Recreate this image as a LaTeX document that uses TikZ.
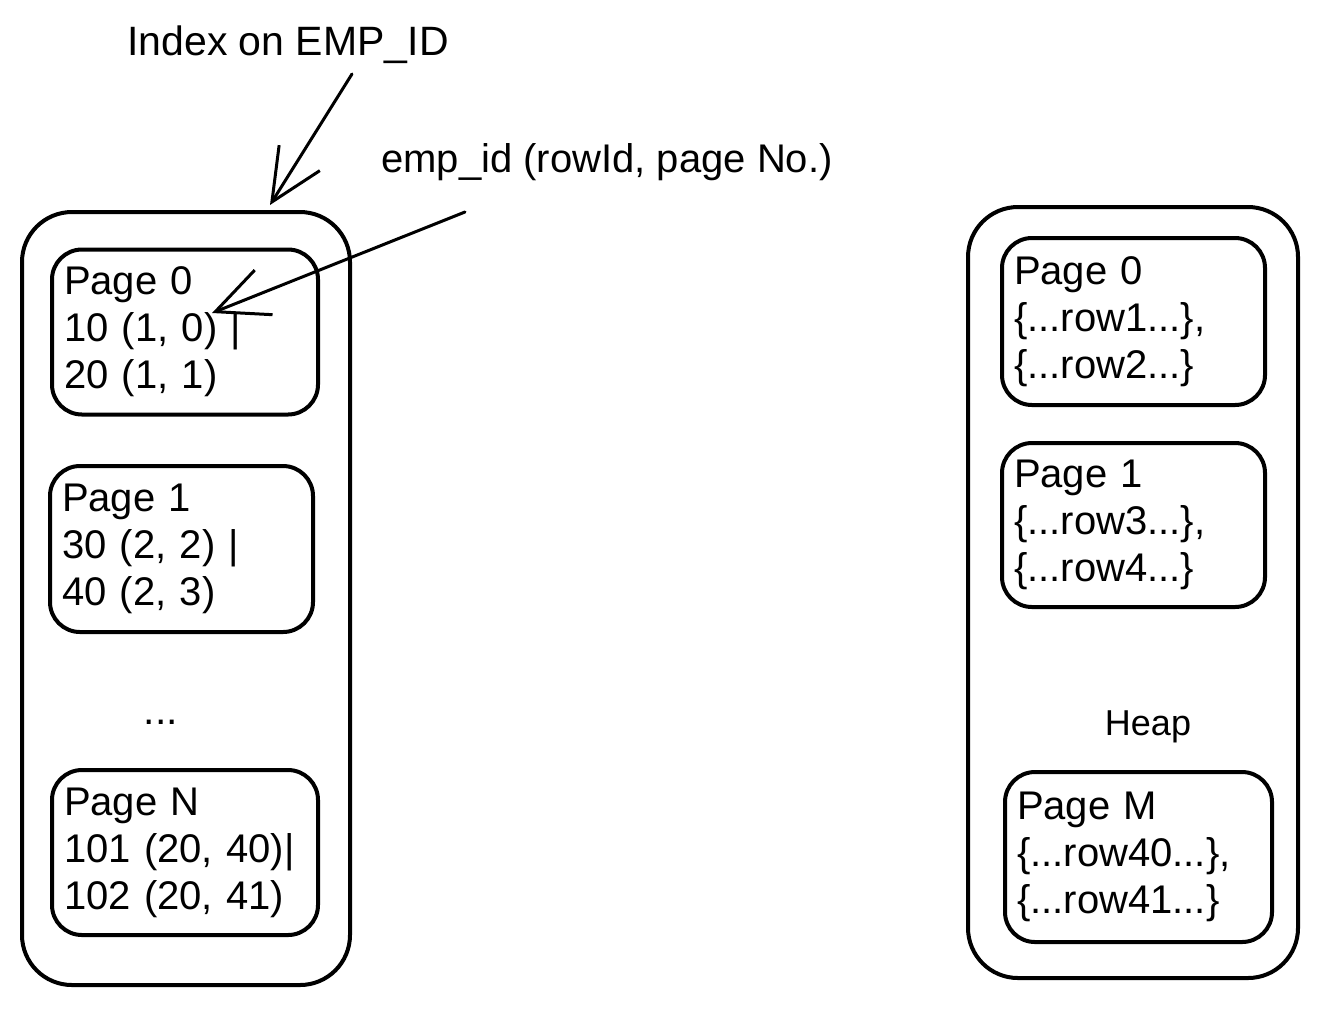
\documentclass[tikz,border=0pt]{standalone}
\usepackage{fontspec}
\setmainfont{Liberation Sans}
\usetikzlibrary{arrows.meta}
\tikzset{
  outerbox/.style={draw, line width=2pt, rounded corners=25pt},
  pagebox/.style={draw, line width=2pt, rounded corners=15pt, align=left,
    inner xsep=6pt, font=\fontsize{20pt}{23.5pt}\selectfont},
  lbl/.style={font=\fontsize{20.5pt}{23pt}\selectfont, inner sep=0pt},
  barb/.style={line width=1.5pt, line cap=round,
    -{Straight Barb[length=26pt, width=24pt, line width=1.5pt]}}
}
\begin{document}
\begin{tikzpicture}[x=0.5pt,y=-0.5pt]
\useasboundingbox (0,0) rectangle (1320,1008);
% outer containers
\node[outerbox, minimum width=164pt, minimum height=386.5pt] (lbox) at (186,598.5) {};
\node[outerbox, minimum width=165pt, minimum height=385.5pt] (rbox) at (1133,592.5) {};
% index pages
\node[pagebox, minimum width=133pt, minimum height=82.5pt, text width=121pt] (ip0) at (185,332)
  {Page 0\\10 (1, 0) |\\20 (1, 1)};
\node[pagebox, minimum width=131.5pt, minimum height=83pt, text width=119.5pt] (ip1) at (181.5,549)
  {Page 1\\30 (2, 2) |\\40 (2, 3)};
\node[lbl] (idots) at (161,722) {...};
\node[pagebox, minimum width=133pt, minimum height=82.5pt, text width=121pt] (ipn) at (185,852.5)
  {Page N\\101 (20, 40)|\\102 (20, 41)};
% heap pages
\node[pagebox, minimum width=131.5pt, minimum height=83.5pt, text width=119.5pt] (hp0) at (1133.5,321.5)
  {Page 0\\\{...row1...\},\\\{...row2...\}};
\node[pagebox, minimum width=131.5pt, minimum height=82pt, text width=119.5pt] (hp1) at (1133.5,525)
  {Page 1\\\{...row3...\},\\\{...row4...\}};
\node[lbl, font=\fontsize{18pt}{21pt}\selectfont] (heap) at (1148,727) {Heap};
\node[pagebox, minimum width=133.5pt, minimum height=85pt, text width=121.5pt] (hpm) at (1138.5,857)
  {Page M\\\{...row40...\},\\\{...row41...\}};
% labels
\node[lbl] (idxlbl) at (288,45) {Index on EMP\_ID};
\node[lbl, font=\fontsize{20pt}{23pt}\selectfont] (keylbl) at (607,162) {emp\_id (rowId, page No.)};
% arrows
\coordinate (a1s) at (352,74);
\coordinate (a1e) at (270,205);
\coordinate (a2s) at (465,212);
\coordinate (a2e) at (212,313);
\draw[barb] (a1s) -- (a1e);
\draw[barb] (a2s) -- (a2e);
\end{tikzpicture}
\end{document}
